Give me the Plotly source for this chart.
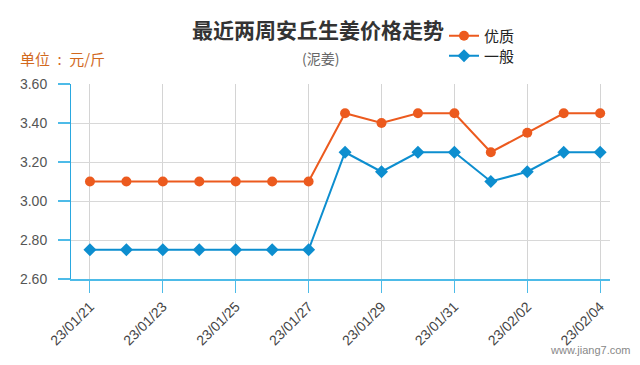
import plotly.graph_objects as go

dates = ["23/01/21", "23/01/22", "23/01/23", "23/01/24", "23/01/25", "23/01/26", "23/01/27",
         "23/01/28", "23/01/29", "23/01/30", "23/01/31", "23/02/01", "23/02/02", "23/02/03", "23/02/04"]
premium = [3.10, 3.10, 3.10, 3.10, 3.10, 3.10, 3.10, 3.45, 3.40, 3.45, 3.45, 3.25, 3.35, 3.45, 3.45]
ordinary = [2.75, 2.75, 2.75, 2.75, 2.75, 2.75, 2.75, 3.25, 3.15, 3.25, 3.25, 3.10, 3.15, 3.25, 3.25]
tick_labels = dates[::2]
y_ticks = [2.6, 2.8, 3.0, 3.2, 3.4, 3.6]

FONT = "Liberation Sans, Arial, Noto Sans CJK SC, sans-serif"
CJK = "Noto Sans CJK SC, sans-serif"
ORANGE = "#ec5a1e"
BLUE = "#0d8ecf"
AXIS_BLUE = "#4dbbe8"

L, R, T, B = 71, 610, 84, 279
W, H = 640, 365

def px(xp):
    return (xp - L) / (R - L)

def py(yp):
    return (B - yp) / (B - T)

fig = go.Figure()
fig.add_trace(go.Scatter(x=dates, y=premium, name="优质", mode="lines+markers",
                         line=dict(color=ORANGE, width=2),
                         marker=dict(symbol="circle", size=10, color=ORANGE),
                         legend="legend"))
fig.add_trace(go.Scatter(x=dates, y=ordinary, name="一般", mode="lines+markers",
                         line=dict(color=BLUE, width=2),
                         marker=dict(symbol="diamond", size=10, color=BLUE),
                         legend="legend2"))

leg_common = dict(xref="container", yref="container", xanchor="left", yanchor="middle",
                  font=dict(size=15, color="#222", family=CJK),
                  bgcolor="rgba(0,0,0,0)", itemwidth=30)

fig.update_layout(
    width=W, height=H,
    margin=dict(l=L, r=W - R, t=T, b=H - B, pad=0, autoexpand=False),
    paper_bgcolor="white", plot_bgcolor="white",
    font=dict(family=FONT, color="#444"),
    showlegend=True,
    legend=dict(x=444 / W, y=1 - 36 / H, **leg_common),
    legend2=dict(x=444 / W, y=1 - 56 / H, **leg_common),
    xaxis=dict(type="category", range=[-0.52, 14.27], automargin=False,
               tickmode="array", tickvals=tick_labels, ticktext=tick_labels,
               tickangle=-45, tickfont=dict(size=14, color="#444"),
               showgrid=True, gridcolor="#d4d4d4", gridwidth=1,
               showline=True, linecolor=AXIS_BLUE, linewidth=2,
               ticks="outside", ticklen=12, tickcolor=AXIS_BLUE, tickwidth=1,
               zeroline=False, fixedrange=True),
    yaxis=dict(range=[2.6, 3.6], tickmode="array", tickvals=y_ticks, automargin=False,
               tickformat=".2f", tickfont=dict(size=14, color="#555"),
               showgrid=True, gridcolor="#d8d8d8", gridwidth=1,
               showline=True, linecolor="#2aa8e0", linewidth=1,
               ticks="outside", ticklen=12, tickcolor=AXIS_BLUE, tickwidth=2,
               ticklabelstandoff=8, zeroline=False, fixedrange=True),
    annotations=[
        dict(text="<b>最近两周安丘生姜价格走势</b>", x=px(318), y=py(29), xref="paper", yref="paper",
             showarrow=False, xanchor="center", yanchor="middle",
             font=dict(size=21, color="#333", family=CJK)),
        dict(text="(泥姜)", x=px(320), y=py(58), xref="paper", yref="paper",
             showarrow=False, xanchor="center", yanchor="middle",
             font=dict(size=14, color="#666", family=CJK)),
        dict(text="单位\u2002:\u2002元/斤", x=px(18), y=py(58), xref="paper", yref="paper",
             showarrow=False, xanchor="left", yanchor="middle",
             font=dict(size=15, color="#d2691e", family=CJK)),
        dict(text="www.jiang7.com", x=px(632), y=py(350), xref="paper", yref="paper",
             showarrow=False, xanchor="right", yanchor="middle",
             font=dict(size=11, color="#888", family=FONT)),
    ],
)

fig.write_html("out.html", config={"displayModeBar": False},
               post_script="document.body.style.margin='0';document.body.style.padding='0';")
